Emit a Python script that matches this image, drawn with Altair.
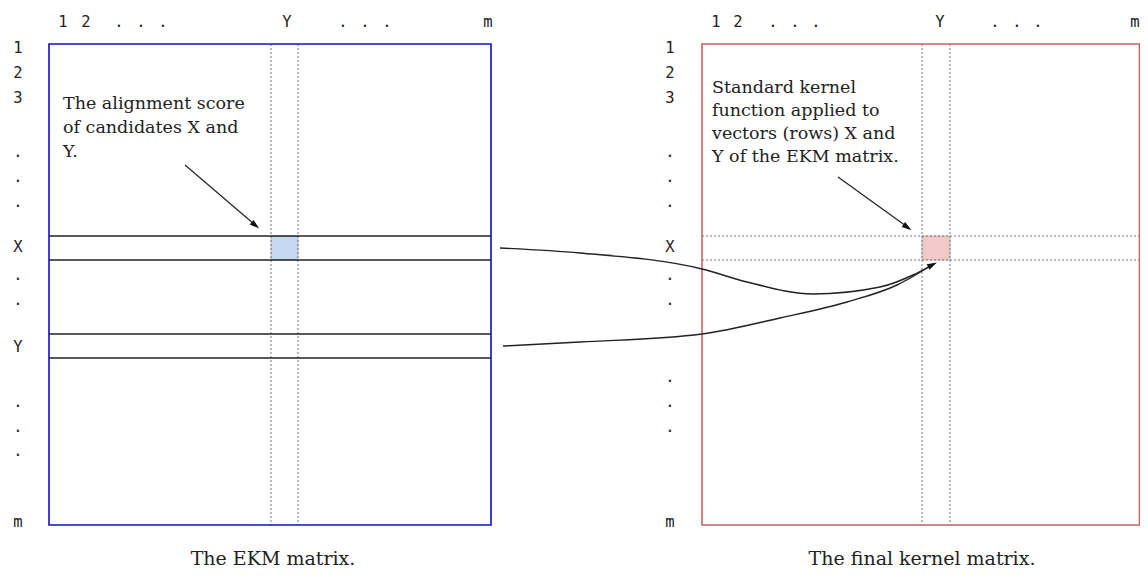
import altair as alt
import pandas as pd

# ---- diagram geometry (screen-like coordinates) ----
box_names = ["EKM", "Kernel"]
box_x1 = [49, 702]
box_x2 = [491, 1139.5]
box_y1 = [44, 44]
box_y2 = [525, 525]
box_colors = ["#1010cc", "#c86464"]

cell_x1 = [271, 922]
cell_x2 = [298, 950]
cell_y1 = [236, 236]
cell_y2 = [260, 260]
cell_colors = ["#c6d9f4", "#f3c8c8"]

# solid row lines on the EKM matrix
solid_y = [236, 260, 334, 358]
solid_x1 = [49, 49, 49, 49]
solid_x2 = [491, 491, 491, 491]

# dotted guide lines
dot_x1 = [271, 298, 922, 950, 702, 702]
dot_x2 = [271, 298, 922, 950, 1139, 1139]
dot_y1 = [44, 44, 44, 44, 236, 260]
dot_y2 = [525, 525, 525, 525, 236, 260]

# top column labels
top_text = ["1", "2", ".", ".", ".", "Y", ".", ".", ".", "m",
            "1", "2", ".", ".", ".", "Y", ".", ".", ".", "m"]
top_x = [63, 86, 119, 141, 163, 287, 343, 365, 387, 488,
         716, 738, 773, 795, 816, 940, 995, 1017, 1038, 1135]

# left row labels
left_text = ["1", "2", "3", ".", ".", ".", "X", ".", ".", "Y", ".", ".", ".", "m",
             "1", "2", "3", ".", ".", ".", "X", ".", ".", ".", ".", ".", "m"]
left_x = [18] * 14 + [670] * 13
left_y = [48, 73, 98, 152, 177, 202, 247, 275, 300, 347, 402, 427, 451, 522,
          48, 73, 98, 152, 177, 202, 247, 275, 300, 377, 402, 427, 522]

# annotations
note_text = ["The alignment score", "of candidates X and", "Y.",
             "Standard kernel", "function applied to", "vectors (rows) X and", "Y of the EKM matrix."]
note_x = [63, 63, 63, 712, 712, 712, 712]
note_y = [104, 128, 152, 88, 111, 134, 157]

caption_text = ["The EKM matrix.", "The final kernel matrix."]
caption_x = [273, 922]
caption_y = [559, 559]

# straight pointer arrows
arrow_x1 = [185, 838]
arrow_y1 = [165, 177]
arrow_x2 = [254, 906]
arrow_y2 = [224, 226]

# curved connectors
curve_id = ["a"] * 8 + ["b"] * 7
curve_x = [500, 580, 702, 747, 813, 880, 913, 932,
           503, 580, 702, 780, 847, 897, 932]
curve_y = [248, 253, 269, 282, 294, 287, 275, 265,
           346, 342, 334, 318, 302, 285, 265]

# arrowheads
head_x = [255, 907, 932]
head_y = [225, 227, 265]
head_angle = [130, 125, 63]

# ---- build chart ----
W, H = 1132, 563
X = alt.Scale(domain=[8, 8 + W])
Y = alt.Scale(domain=[8, 8 + H], reverse=True)

def xq(f):
    return alt.X(f, type="quantitative", scale=X, axis=None)

def yq(f):
    return alt.Y(f, type="quantitative", scale=Y, axis=None)

boxes = pd.DataFrame(dict(x1=box_x1, x2=box_x2, y1=box_y1, y2=box_y2, c=box_colors))
cells = pd.DataFrame(dict(x1=cell_x1, x2=cell_x2, y1=cell_y1, y2=cell_y2, c=cell_colors))
solid = pd.DataFrame(dict(x1=solid_x1, x2=solid_x2, y=solid_y))
dots = pd.DataFrame(dict(x1=dot_x1, x2=dot_x2, y1=dot_y1, y2=dot_y2))
tops = pd.DataFrame(dict(t=top_text, x=top_x, y=[22] * len(top_text)))
lefts = pd.DataFrame(dict(t=left_text, x=left_x, y=left_y))
notes = pd.DataFrame(dict(t=note_text, x=note_x, y=note_y))
caps = pd.DataFrame(dict(t=caption_text, x=caption_x, y=caption_y))
arrows = pd.DataFrame(dict(x1=arrow_x1, x2=arrow_x2, y1=arrow_y1, y2=arrow_y2))
curves = pd.DataFrame(dict(id=curve_id, x=curve_x, y=curve_y, o=list(range(len(curve_x)))))
heads = pd.DataFrame(dict(x=head_x, y=head_y, a=head_angle))

cell_layer = alt.Chart(cells).mark_rect(strokeWidth=0.6, stroke="#aaaaaa").encode(
    x=xq("x1"), x2="x2", y=yq("y1"), y2="y2",
    fill=alt.Fill("c:N", scale=None))

dot_layer = alt.Chart(dots).mark_rule(color="#777777", strokeWidth=1, strokeDash=[2, 2]).encode(
    x=xq("x1"), x2="x2", y=yq("y1"), y2="y2")

solid_layer = alt.Chart(solid).mark_rule(color="#222222", strokeWidth=1.5).encode(
    x=xq("x1"), x2="x2", y=yq("y"))

box_layer = alt.Chart(boxes).mark_rect(fillOpacity=0, strokeWidth=1.6).encode(
    x=xq("x1"), x2="x2", y=yq("y1"), y2="y2",
    stroke=alt.Stroke("c:N", scale=None))

mono = dict(font="DejaVu Sans Mono", fontSize=15.5, color="#222222", baseline="middle", align="center")
top_layer = alt.Chart(tops).mark_text(**mono).encode(x=xq("x"), y=yq("y"), text="t:N")
left_layer = alt.Chart(lefts).mark_text(**mono).encode(x=xq("x"), y=yq("y"), text="t:N")

note_layer = alt.Chart(notes).mark_text(font="DejaVu Serif", fontSize=17.5, color="#222222",
                                        baseline="middle", align="left").encode(
    x=xq("x"), y=yq("y"), text="t:N")

cap_layer = alt.Chart(caps).mark_text(font="DejaVu Serif", fontSize=19, color="#222222",
                                      baseline="middle", align="center").encode(
    x=xq("x"), y=yq("y"), text="t:N")

arrow_layer = alt.Chart(arrows).mark_rule(color="#222222", strokeWidth=1.2).encode(
    x=xq("x1"), x2="x2", y=yq("y1"), y2="y2")

curve_layer = alt.Chart(curves).mark_line(color="#222222", strokeWidth=1.4, interpolate="monotone").encode(
    x=xq("x"), y=yq("y"), detail="id:N", order="o:Q")

head_layer = alt.Chart(heads).mark_point(
    shape="M0,-1L-0.55,0.8L0.55,0.8Z", filled=True, color="#111111", opacity=1, size=120).encode(
    x=xq("x"), y=yq("y"), angle=alt.Angle("a:Q", scale=None))

chart = alt.layer(
    cell_layer, dot_layer, solid_layer, box_layer, top_layer, left_layer,
    note_layer, cap_layer, arrow_layer, curve_layer, head_layer
).properties(
    width=W, height=H,
    autosize=alt.AutoSizeParams(type="none"),
    padding=0,
).configure(background="white").configure_view(strokeWidth=0, stroke="transparent")

chart.save("out.html", embed_options={"renderer": "svg", "actions": False})
